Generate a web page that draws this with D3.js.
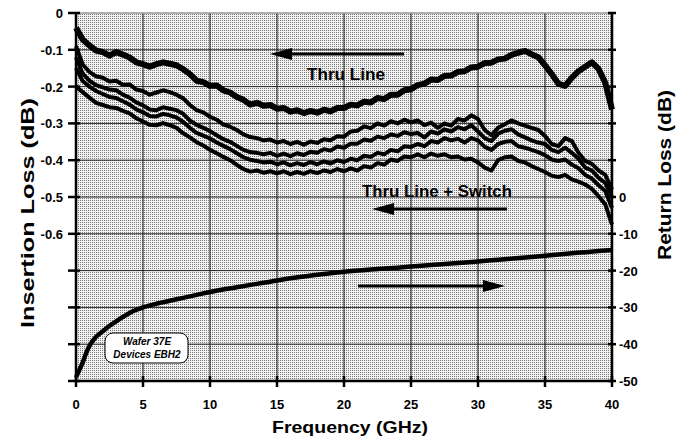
<!DOCTYPE html>
<html>
<head>
<meta charset="utf-8">
<script src="https://cdn.jsdelivr.net/npm/d3@7"></script>
<style>
    body { margin: 0; background: #fff; }
    svg { display: block; font-family: "Liberation Sans", Arial, Helvetica, sans-serif; }
    .tick-label { font-size: 13px; font-weight: bold; fill: #000; }
    .title { font-weight: bold; fill: #000; }
</style>
</head>
<body>
<div id="chart"></div>
<script>
// Insertion loss / return loss vs frequency

const freq = [0, 0.5, 1, 1.5, 2, 2.5, 3, 3.5, 4, 4.5, 5, 5.5, 6, 6.5, 7, 7.5, 8, 8.5, 9, 9.5,
    10, 10.5, 11, 11.5, 12, 12.5, 13, 13.5, 14, 14.5, 15, 15.5, 16, 16.5, 17, 17.5, 18, 18.5, 19, 19.5,
    20, 20.5, 21, 21.5, 22, 22.5, 23, 23.5, 24, 24.5, 25, 25.5, 26, 26.5, 27, 27.5, 28, 28.5, 29, 29.5,
    30, 30.5, 31, 31.5, 32, 32.5, 33, 33.5, 34, 34.5, 35, 35.5, 36, 36.5, 37, 37.5, 38, 38.5, 39, 39.5, 40];

const thruLine = [-0.040, -0.072, -0.088, -0.102, -0.106, -0.116, -0.106, -0.113, -0.121, -0.134,
    -0.139, -0.146, -0.139, -0.134, -0.138, -0.142, -0.153, -0.166, -0.184, -0.188,
    -0.198, -0.197, -0.210, -0.216, -0.228, -0.236, -0.249, -0.244, -0.252, -0.250,
    -0.260, -0.258, -0.268, -0.264, -0.272, -0.266, -0.271, -0.263, -0.267, -0.258,
    -0.258, -0.249, -0.251, -0.241, -0.243, -0.231, -0.234, -0.222, -0.222, -0.210,
    -0.207, -0.196, -0.192, -0.181, -0.182, -0.171, -0.170, -0.160, -0.158, -0.148,
    -0.146, -0.136, -0.135, -0.126, -0.124, -0.114, -0.108, -0.103, -0.112, -0.120,
    -0.142, -0.166, -0.192, -0.198, -0.176, -0.158, -0.146, -0.134, -0.152, -0.190, -0.262];

const switch1 = [-0.090, -0.140, -0.160, -0.172, -0.176, -0.186, -0.184, -0.195, -0.194, -0.208,
    -0.212, -0.222, -0.216, -0.210, -0.215, -0.222, -0.232, -0.250, -0.264, -0.270,
    -0.282, -0.290, -0.303, -0.309, -0.318, -0.330, -0.337, -0.340, -0.346, -0.344,
    -0.352, -0.348, -0.356, -0.350, -0.358, -0.349, -0.353, -0.343, -0.346, -0.335,
    -0.336, -0.322, -0.320, -0.308, -0.313, -0.300, -0.306, -0.294, -0.300, -0.290,
    -0.297, -0.292, -0.305, -0.298, -0.312, -0.300, -0.306, -0.288, -0.292, -0.278,
    -0.288, -0.318, -0.332, -0.312, -0.302, -0.292, -0.300, -0.306, -0.312, -0.318,
    -0.334, -0.356, -0.362, -0.340, -0.348, -0.380, -0.402, -0.410, -0.428, -0.440, -0.480];

const switch2 = [-0.120, -0.165, -0.184, -0.196, -0.202, -0.208, -0.210, -0.222, -0.230, -0.243,
    -0.251, -0.262, -0.264, -0.256, -0.260, -0.264, -0.274, -0.292, -0.304, -0.312,
    -0.321, -0.332, -0.343, -0.350, -0.361, -0.372, -0.378, -0.380, -0.384, -0.380,
    -0.388, -0.382, -0.389, -0.381, -0.386, -0.377, -0.380, -0.370, -0.374, -0.363,
    -0.366, -0.355, -0.355, -0.344, -0.347, -0.336, -0.340, -0.330, -0.334, -0.324,
    -0.329, -0.326, -0.338, -0.322, -0.328, -0.316, -0.322, -0.310, -0.316, -0.305,
    -0.322, -0.340, -0.348, -0.328, -0.320, -0.316, -0.330, -0.338, -0.346, -0.352,
    -0.356, -0.372, -0.378, -0.366, -0.380, -0.396, -0.420, -0.428, -0.448, -0.462, -0.500];

const switch3 = [-0.150, -0.185, -0.200, -0.212, -0.220, -0.228, -0.231, -0.240, -0.249, -0.262,
    -0.270, -0.280, -0.281, -0.274, -0.278, -0.284, -0.296, -0.312, -0.326, -0.333,
    -0.341, -0.352, -0.361, -0.370, -0.381, -0.392, -0.399, -0.402, -0.406, -0.404,
    -0.411, -0.406, -0.414, -0.408, -0.413, -0.405, -0.411, -0.403, -0.409, -0.400,
    -0.405, -0.396, -0.400, -0.388, -0.391, -0.380, -0.384, -0.372, -0.376, -0.362,
    -0.364, -0.356, -0.362, -0.348, -0.352, -0.340, -0.346, -0.342, -0.352, -0.340,
    -0.346, -0.364, -0.372, -0.356, -0.350, -0.348, -0.362, -0.366, -0.372, -0.378,
    -0.386, -0.398, -0.402, -0.398, -0.412, -0.422, -0.440, -0.450, -0.468, -0.484, -0.530];

const switch4 = [-0.200, -0.215, -0.230, -0.244, -0.250, -0.256, -0.258, -0.266, -0.273, -0.286,
    -0.295, -0.304, -0.305, -0.299, -0.305, -0.312, -0.327, -0.338, -0.351, -0.360,
    -0.372, -0.381, -0.391, -0.400, -0.413, -0.424, -0.431, -0.428, -0.434, -0.430,
    -0.436, -0.430, -0.438, -0.432, -0.437, -0.430, -0.435, -0.428, -0.432, -0.424,
    -0.430, -0.422, -0.428, -0.416, -0.420, -0.408, -0.412, -0.398, -0.402, -0.390,
    -0.392, -0.384, -0.392, -0.382, -0.388, -0.384, -0.392, -0.390, -0.398, -0.396,
    -0.406, -0.420, -0.428, -0.400, -0.392, -0.390, -0.402, -0.406, -0.416, -0.424,
    -0.432, -0.442, -0.446, -0.440, -0.452, -0.458, -0.466, -0.478, -0.498, -0.520, -0.575];

const rlFreq = [0, 0.25, 0.5, 0.75, 1, 1.5, 2, 2.5, 3, 3.5, 4, 5, 6, 7, 8, 9, 10, 12, 14, 16,
    18, 20, 22, 24, 26, 28, 30, 32, 34, 36, 38, 40];
const returnLoss = [-49, -47, -45, -42.5, -40.5, -38, -36.5, -35, -33.8, -32.6, -31.5, -30, -29, -28.2,
    -27.4, -26.6, -25.8, -24.5, -23.3, -22.1, -21.1, -20.3, -19.7, -19.2, -18.6, -18.1, -17.5,
    -16.9, -16.3, -15.6, -15.0, -14.4];

const xTicks = [0, 5, 10, 15, 20, 25, 30, 35, 40];
const leftTicks = [0, -0.1, -0.2, -0.3, -0.4, -0.5, -0.6, -0.7, -0.8, -0.9, -1.0];
const leftLabels = ['0', '-0.1', '-0.2', '-0.3', '-0.4', '-0.5', '-0.6', '', '', '', ''];
const rightTicks = [50, 40, 30, 20, 10, 0, -10, -20, -30, -40, -50];
const rightLabels = ['', '', '', '', '', '0', '-10', '-20', '-30', '-40', '-50'];

const width = 683, height = 441;
const plot = { left: 76, right: 612, top: 13, bottom: 381 };

const svg = d3.select('#chart').append('svg')
    .attr('width', width)
    .attr('height', height);

const x = d3.scaleLinear().domain([0, 40]).range([plot.left, plot.right]);
const yL = d3.scaleLinear().domain([-1, 0]).range([plot.bottom, plot.top]);
const yR = d3.scaleLinear().domain([-50, 50]).range([plot.bottom, plot.top]);

// stippled background
const defs = svg.append('defs');
const pat = defs.append('pattern')
    .attr('id', 'stipple')
    .attr('width', 2).attr('height', 2)
    .attr('patternUnits', 'userSpaceOnUse');
pat.append('rect').attr('width', 2).attr('height', 2).attr('fill', '#f2f2f2');
pat.append('rect').attr('width', 1).attr('height', 1).attr('fill', '#7a7a7a');

svg.append('rect')
    .attr('x', plot.left).attr('y', plot.top)
    .attr('width', plot.right - plot.left)
    .attr('height', plot.bottom - plot.top)
    .attr('fill', 'url(#stipple)');

// grid
svg.append('g').selectAll('line')
    .data(xTicks.slice(1, -1))
    .enter().append('line')
    .attr('x1', d => x(d)).attr('x2', d => x(d))
    .attr('y1', plot.top).attr('y2', plot.bottom)
    .attr('stroke', '#111').attr('stroke-width', 1);

svg.append('g').selectAll('line')
    .data(leftTicks.slice(1, -1))
    .enter().append('line')
    .attr('x1', plot.left).attr('x2', plot.right)
    .attr('y1', d => yL(d)).attr('y2', d => yL(d))
    .attr('stroke', '#222').attr('stroke-width', 1);

// top border
svg.append('line')
    .attr('x1', plot.left).attr('x2', plot.right)
    .attr('y1', plot.top).attr('y2', plot.top)
    .attr('stroke', '#999').attr('stroke-width', 1.5);

// data lines
const line = d3.line().x((d, i) => x(freq[i])).y(d => yL(d)).curve(d3.curveLinear);

[switch4, switch3, switch2, switch1].forEach(s => {
    svg.append('path')
        .datum(s)
        .attr('d', line)
        .attr('fill', 'none')
        .attr('stroke', '#000')
        .attr('stroke-width', 4)
        .attr('stroke-linejoin', 'round');
});

svg.append('path')
    .datum(thruLine)
    .attr('d', line)
    .attr('fill', 'none')
    .attr('stroke', '#000')
    .attr('stroke-width', 6)
    .attr('stroke-linejoin', 'round');

const rlLine = d3.line().x((d, i) => x(rlFreq[i])).y(d => yR(d)).curve(d3.curveMonotoneX);
svg.append('path')
    .datum(returnLoss)
    .attr('d', rlLine)
    .attr('fill', 'none')
    .attr('stroke', '#000')
    .attr('stroke-width', 4.5)
    .attr('stroke-linejoin', 'round');

// axes lines
svg.append('line')
    .attr('x1', plot.left).attr('x2', plot.left)
    .attr('y1', plot.top - 1).attr('y2', plot.bottom + 1)
    .attr('stroke', '#000').attr('stroke-width', 2.5);
svg.append('line')
    .attr('x1', plot.right).attr('x2', plot.right)
    .attr('y1', plot.top - 1).attr('y2', plot.bottom + 1)
    .attr('stroke', '#000').attr('stroke-width', 2.5);
svg.append('line')
    .attr('x1', plot.left).attr('x2', plot.right)
    .attr('y1', plot.bottom).attr('y2', plot.bottom)
    .attr('stroke', '#000').attr('stroke-width', 2.5);

// tick marks
svg.append('g').selectAll('line')
    .data(leftTicks)
    .enter().append('line')
    .attr('x1', plot.left - 8).attr('x2', plot.left + 4)
    .attr('y1', d => yL(d)).attr('y2', d => yL(d))
    .attr('stroke', '#000').attr('stroke-width', 2.5);
svg.append('g').selectAll('line')
    .data(rightTicks)
    .enter().append('line')
    .attr('x1', plot.right - 4).attr('x2', plot.right + 4)
    .attr('y1', d => yR(d)).attr('y2', d => yR(d))
    .attr('stroke', '#000').attr('stroke-width', 2.5);
svg.append('g').selectAll('line')
    .data(xTicks)
    .enter().append('line')
    .attr('x1', d => x(d)).attr('x2', d => x(d))
    .attr('y1', plot.bottom - 5).attr('y2', plot.bottom + 6)
    .attr('stroke', '#000').attr('stroke-width', 2.5);

// tick labels
svg.append('g').selectAll('text')
    .data(leftTicks)
    .enter().append('text')
    .attr('class', 'tick-label')
    .attr('x', 63)
    .attr('y', d => yL(d) + 5)
    .attr('text-anchor', 'end')
    .text((d, i) => leftLabels[i]);

svg.append('g').selectAll('text')
    .data(rightTicks)
    .enter().append('text')
    .attr('class', 'tick-label')
    .attr('x', 619)
    .attr('y', d => yR(d) + 5)
    .text((d, i) => rightLabels[i]);

svg.append('g').selectAll('text')
    .data(xTicks)
    .enter().append('text')
    .attr('class', 'tick-label')
    .attr('x', d => x(d))
    .attr('y', 409)
    .attr('text-anchor', 'middle')
    .text(d => d);

// axis titles
svg.append('text')
    .attr('class', 'title')
    .attr('transform', 'translate(34,213) rotate(-90)')
    .attr('text-anchor', 'middle')
    .attr('font-size', 18)
    .attr('textLength', 230)
    .attr('lengthAdjust', 'spacingAndGlyphs')
    .text('Insertion Loss (dB)');

svg.append('text')
    .attr('class', 'title')
    .attr('transform', 'translate(671,175) rotate(-90)')
    .attr('text-anchor', 'middle')
    .attr('font-size', 18)
    .attr('textLength', 170)
    .attr('lengthAdjust', 'spacingAndGlyphs')
    .text('Return Loss (dB)');

svg.append('text')
    .attr('class', 'title')
    .attr('x', 350)
    .attr('y', 433)
    .attr('text-anchor', 'middle')
    .attr('font-size', 17)
    .attr('textLength', 156)
    .attr('lengthAdjust', 'spacingAndGlyphs')
    .text('Frequency (GHz)');

// annotations
function arrow(x1, x2, y) {
    const dir = x2 < x1 ? 1 : -1;
    svg.append('line')
        .attr('x1', x1).attr('x2', x2 + dir * 18)
        .attr('y1', y).attr('y2', y)
        .attr('stroke', '#000').attr('stroke-width', 3);
    svg.append('path')
        .attr('d', `M${x2},${y} L${x2 + dir * 22},${y - 6} L${x2 + dir * 22},${y + 6} Z`)
        .attr('fill', '#000');
}

arrow(404, 270, 54);
arrow(507, 372, 209);
arrow(358, 505, 286);

svg.append('text')
    .attr('class', 'title')
    .attr('x', 307).attr('y', 80)
    .attr('font-size', 16)
    .attr('textLength', 78)
    .attr('lengthAdjust', 'spacingAndGlyphs')
    .text('Thru Line');

svg.append('text')
    .attr('class', 'title')
    .attr('x', 362).attr('y', 197)
    .attr('font-size', 16)
    .attr('textLength', 150)
    .attr('lengthAdjust', 'spacingAndGlyphs')
    .text('Thru Line + Switch');

// wafer label box
svg.append('rect')
    .attr('x', 105).attr('y', 333)
    .attr('width', 83).attr('height', 30)
    .attr('rx', 8).attr('ry', 8)
    .attr('fill', '#fff')
    .attr('stroke', '#000').attr('stroke-width', 1);

svg.append('text')
    .attr('x', 147).attr('y', 345)
    .attr('text-anchor', 'middle')
    .attr('font-size', 10).attr('font-weight', 'bold').attr('font-style', 'italic')
    .text('Wafer 37E');
svg.append('text')
    .attr('x', 147).attr('y', 358)
    .attr('text-anchor', 'middle')
    .attr('font-size', 10).attr('font-weight', 'bold').attr('font-style', 'italic')
    .text('Devices EBH2');
</script>
</body>
</html>
